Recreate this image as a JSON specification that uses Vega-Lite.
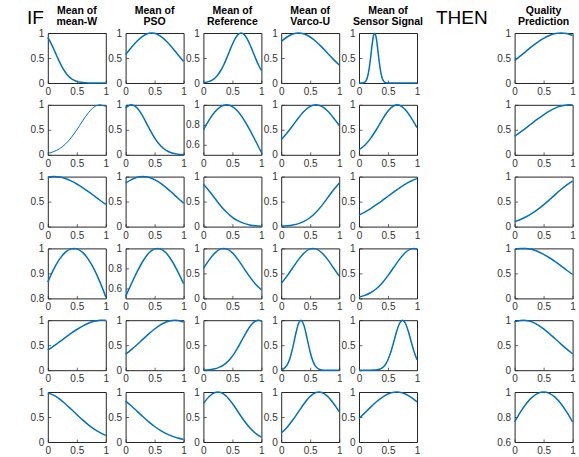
{
"$schema": "https://vega.github.io/schema/vega-lite/v6.json",
"background": "white",
"padding": {"left": 27, "top": 5, "right": 2, "bottom": 0},
"columns": 8,
"align": "each",
"bounds": "flush",
"spacing": {"row": 21.8, "column": 19.8},
"datasets": {
"1a": [{"x":0,"y":0.91},{"x":0.05,"y":0.808},{"x":0.1,"y":0.685},{"x":0.15,"y":0.554},{"x":0.2,"y":0.427},{"x":0.25,"y":0.314},{"x":0.3,"y":0.22},{"x":0.35,"y":0.147},{"x":0.4,"y":0.094},{"x":0.45,"y":0.057},{"x":0.5,"y":0.033},{"x":0.55,"y":0.018},{"x":0.6,"y":0.0097},{"x":0.7,"y":0.0024},{"x":0.8,"y":0.0005},{"x":0.9,"y":0.0001},{"x":1,"y":0}],
"1b": [{"x":0,"y":0.57},{"x":0.1,"y":0.712},{"x":0.2,"y":0.841},{"x":0.3,"y":0.939},{"x":0.4,"y":0.993},{"x":0.45,"y":1},{"x":0.5,"y":0.993},{"x":0.6,"y":0.939},{"x":0.7,"y":0.841},{"x":0.8,"y":0.712},{"x":0.9,"y":0.57},{"x":1,"y":0.432}],
"1c": [{"x":0,"y":0.0084},{"x":0.05,"y":0.017},{"x":0.1,"y":0.033},{"x":0.15,"y":0.059},{"x":0.2,"y":0.101},{"x":0.25,"y":0.164},{"x":0.3,"y":0.25},{"x":0.35,"y":0.361},{"x":0.4,"y":0.493},{"x":0.45,"y":0.636},{"x":0.5,"y":0.775},{"x":0.55,"y":0.893},{"x":0.6,"y":0.972},{"x":0.65,"y":1},{"x":0.7,"y":0.972},{"x":0.75,"y":0.893},{"x":0.8,"y":0.775},{"x":0.85,"y":0.636},{"x":0.9,"y":0.493},{"x":0.95,"y":0.361},{"x":1,"y":0.25}],
"1d": [{"x":0,"y":0.829},{"x":0.1,"y":0.92},{"x":0.2,"y":0.979},{"x":0.3,"y":1},{"x":0.4,"y":0.979},{"x":0.5,"y":0.92},{"x":0.6,"y":0.829},{"x":0.7,"y":0.717},{"x":0.8,"y":0.594},{"x":0.9,"y":0.472},{"x":1,"y":0.36}],
"1e": [{"x":0,"y":0},{"x":0.05,"y":0.0012},{"x":0.1,"y":0.018},{"x":0.125,"y":0.054},{"x":0.15,"y":0.135},{"x":0.175,"y":0.286},{"x":0.2,"y":0.506},{"x":0.225,"y":0.755},{"x":0.25,"y":0.946},{"x":0.275,"y":0.997},{"x":0.3,"y":0.882},{"x":0.325,"y":0.657},{"x":0.35,"y":0.411},{"x":0.375,"y":0.216},{"x":0.4,"y":0.096},{"x":0.425,"y":0.036},{"x":0.45,"y":0.011},{"x":0.5,"y":0.0006},{"x":0.6,"y":0},{"x":0.8,"y":0},{"x":1,"y":0}],
"1q": [{"x":0,"y":0.449},{"x":0.1,"y":0.542},{"x":0.2,"y":0.638},{"x":0.3,"y":0.732},{"x":0.4,"y":0.819},{"x":0.5,"y":0.894},{"x":0.6,"y":0.951},{"x":0.7,"y":0.988},{"x":0.8,"y":1},{"x":0.9,"y":0.988},{"x":1,"y":0.951}],
"2a": [{"x":0,"y":0.03},{"x":0.1,"y":0.063},{"x":0.2,"y":0.12},{"x":0.3,"y":0.21},{"x":0.4,"y":0.339},{"x":0.5,"y":0.5},{"x":0.6,"y":0.677},{"x":0.7,"y":0.841},{"x":0.8,"y":0.958},{"x":0.9,"y":1},{"x":1,"y":0.958}],
"2b": [{"x":0,"y":0.935},{"x":0.1,"y":1},{"x":0.2,"y":0.935},{"x":0.3,"y":0.763},{"x":0.4,"y":0.544},{"x":0.5,"y":0.339},{"x":0.6,"y":0.185},{"x":0.7,"y":0.088},{"x":0.8,"y":0.036},{"x":0.9,"y":0.013},{"x":1,"y":0.004}],
"2c": [{"x":0,"y":0.75},{"x":0.1,"y":0.85},{"x":0.2,"y":0.931},{"x":0.3,"y":0.982},{"x":0.4,"y":1},{"x":0.5,"y":0.982},{"x":0.6,"y":0.931},{"x":0.7,"y":0.85},{"x":0.8,"y":0.75},{"x":0.9,"y":0.638},{"x":1,"y":0.523}],
"2d": [{"x":0,"y":0.301},{"x":0.1,"y":0.435},{"x":0.2,"y":0.587},{"x":0.3,"y":0.741},{"x":0.4,"y":0.875},{"x":0.5,"y":0.967},{"x":0.6,"y":1},{"x":0.7,"y":0.967},{"x":0.8,"y":0.875},{"x":0.9,"y":0.741},{"x":1,"y":0.587}],
"2e": [{"x":0,"y":0.101},{"x":0.1,"y":0.192},{"x":0.2,"y":0.328},{"x":0.3,"y":0.506},{"x":0.4,"y":0.701},{"x":0.5,"y":0.874},{"x":0.6,"y":0.981},{"x":0.66,"y":1},{"x":0.7,"y":0.992},{"x":0.8,"y":0.902},{"x":0.9,"y":0.738},{"x":1,"y":0.544}],
"2q": [{"x":0,"y":0.371},{"x":0.1,"y":0.452},{"x":0.2,"y":0.539},{"x":0.3,"y":0.629},{"x":0.4,"y":0.717},{"x":0.5,"y":0.8},{"x":0.6,"y":0.874},{"x":0.7,"y":0.934},{"x":0.8,"y":0.976},{"x":0.9,"y":0.997},{"x":0.95,"y":1},{"x":1,"y":0.997}],
"3a": [{"x":0,"y":0.99},{"x":0.1,"y":1},{"x":0.2,"y":0.99},{"x":0.3,"y":0.961},{"x":0.4,"y":0.914},{"x":0.5,"y":0.852},{"x":0.6,"y":0.779},{"x":0.7,"y":0.698},{"x":0.8,"y":0.613},{"x":0.9,"y":0.527},{"x":1,"y":0.445}],
"3b": [{"x":0,"y":0.87},{"x":0.1,"y":0.94},{"x":0.2,"y":0.985},{"x":0.3,"y":1},{"x":0.4,"y":0.985},{"x":0.5,"y":0.94},{"x":0.6,"y":0.87},{"x":0.7,"y":0.781},{"x":0.8,"y":0.679},{"x":0.9,"y":0.573},{"x":1,"y":0.468}],
"3c": [{"x":0,"y":0.85},{"x":0.1,"y":0.713},{"x":0.2,"y":0.561},{"x":0.3,"y":0.413},{"x":0.4,"y":0.286},{"x":0.5,"y":0.185},{"x":0.6,"y":0.113},{"x":0.7,"y":0.064},{"x":0.8,"y":0.034},{"x":0.9,"y":0.017},{"x":1,"y":0.008}],
"3d": [{"x":0,"y":0.0067},{"x":0.1,"y":0.015},{"x":0.2,"y":0.031},{"x":0.3,"y":0.06},{"x":0.4,"y":0.108},{"x":0.5,"y":0.182},{"x":0.6,"y":0.287},{"x":0.7,"y":0.42},{"x":0.8,"y":0.574},{"x":0.9,"y":0.732},{"x":1,"y":0.87}],
"3e": [{"x":0,"y":0.23},{"x":0.1,"y":0.291},{"x":0.2,"y":0.36},{"x":0.3,"y":0.438},{"x":0.4,"y":0.52},{"x":0.5,"y":0.607},{"x":0.6,"y":0.693},{"x":0.7,"y":0.775},{"x":0.8,"y":0.849},{"x":0.9,"y":0.912},{"x":1,"y":0.96}],
"3q": [{"x":0,"y":0.1},{"x":0.1,"y":0.142},{"x":0.2,"y":0.197},{"x":0.3,"y":0.264},{"x":0.4,"y":0.345},{"x":0.5,"y":0.436},{"x":0.6,"y":0.536},{"x":0.7,"y":0.64},{"x":0.8,"y":0.742},{"x":0.9,"y":0.835},{"x":1,"y":0.912}],
"4a": [{"x":0,"y":0.865},{"x":0.1,"y":0.916},{"x":0.2,"y":0.956},{"x":0.3,"y":0.984},{"x":0.4,"y":0.998},{"x":0.45,"y":1},{"x":0.5,"y":0.998},{"x":0.6,"y":0.984},{"x":0.7,"y":0.956},{"x":0.8,"y":0.916},{"x":0.9,"y":0.865},{"x":1,"y":0.806}],
"4b": [{"x":0,"y":0.52},{"x":0.1,"y":0.646},{"x":0.2,"y":0.767},{"x":0.3,"y":0.874},{"x":0.4,"y":0.953},{"x":0.5,"y":0.995},{"x":0.55,"y":1},{"x":0.6,"y":0.995},{"x":0.7,"y":0.953},{"x":0.8,"y":0.874},{"x":0.9,"y":0.767},{"x":1,"y":0.646}],
"4c": [{"x":0,"y":0.6},{"x":0.1,"y":0.771},{"x":0.2,"y":0.911},{"x":0.3,"y":0.99},{"x":0.35,"y":1},{"x":0.4,"y":0.99},{"x":0.5,"y":0.911},{"x":0.6,"y":0.771},{"x":0.7,"y":0.6},{"x":0.8,"y":0.43},{"x":0.9,"y":0.284},{"x":1,"y":0.172}],
"4d": [{"x":0,"y":0.3},{"x":0.1,"y":0.446},{"x":0.2,"y":0.614},{"x":0.3,"y":0.78},{"x":0.4,"y":0.914},{"x":0.5,"y":0.99},{"x":0.55,"y":1},{"x":0.6,"y":0.99},{"x":0.7,"y":0.914},{"x":0.8,"y":0.78},{"x":0.9,"y":0.614},{"x":1,"y":0.446}],
"4e": [{"x":0,"y":0.03},{"x":0.1,"y":0.061},{"x":0.2,"y":0.113},{"x":0.3,"y":0.194},{"x":0.4,"y":0.31},{"x":0.5,"y":0.456},{"x":0.6,"y":0.622},{"x":0.7,"y":0.785},{"x":0.8,"y":0.917},{"x":0.9,"y":0.99},{"x":0.95,"y":1},{"x":1,"y":0.99}],
"4q": [{"x":0,"y":0.977},{"x":0.1,"y":0.997},{"x":0.15,"y":1},{"x":0.2,"y":0.997},{"x":0.3,"y":0.977},{"x":0.4,"y":0.938},{"x":0.5,"y":0.882},{"x":0.6,"y":0.813},{"x":0.7,"y":0.734},{"x":0.8,"y":0.65},{"x":0.9,"y":0.563},{"x":1,"y":0.478}],
"5a": [{"x":0,"y":0.4},{"x":0.1,"y":0.48},{"x":0.2,"y":0.565},{"x":0.3,"y":0.651},{"x":0.4,"y":0.736},{"x":0.5,"y":0.814},{"x":0.6,"y":0.883},{"x":0.7,"y":0.938},{"x":0.8,"y":0.977},{"x":0.9,"y":0.997},{"x":0.95,"y":1},{"x":1,"y":0.997}],
"5b": [{"x":0,"y":0.32},{"x":0.1,"y":0.412},{"x":0.2,"y":0.514},{"x":0.3,"y":0.621},{"x":0.4,"y":0.727},{"x":0.5,"y":0.824},{"x":0.6,"y":0.906},{"x":0.7,"y":0.965},{"x":0.8,"y":0.996},{"x":0.85,"y":1},{"x":0.9,"y":0.996},{"x":1,"y":0.965}],
"5c": [{"x":0,"y":0.0036},{"x":0.1,"y":0.011},{"x":0.2,"y":0.03},{"x":0.25,"y":0.047},{"x":0.3,"y":0.071},{"x":0.35,"y":0.105},{"x":0.4,"y":0.151},{"x":0.45,"y":0.21},{"x":0.5,"y":0.282},{"x":0.55,"y":0.368},{"x":0.6,"y":0.465},{"x":0.65,"y":0.57},{"x":0.7,"y":0.677},{"x":0.75,"y":0.779},{"x":0.8,"y":0.869},{"x":0.85,"y":0.939},{"x":0.9,"y":0.984},{"x":0.95,"y":1},{"x":1,"y":0.984}],
"5d": [{"x":0,"y":0.0098},{"x":0.05,"y":0.035},{"x":0.1,"y":0.1},{"x":0.15,"y":0.236},{"x":0.2,"y":0.457},{"x":0.25,"y":0.723},{"x":0.3,"y":0.938},{"x":0.34,"y":1},{"x":0.4,"y":0.866},{"x":0.45,"y":0.616},{"x":0.5,"y":0.359},{"x":0.55,"y":0.171},{"x":0.6,"y":0.067},{"x":0.65,"y":0.021},{"x":0.7,"y":0.0056},{"x":0.75,"y":0.0012},{"x":0.8,"y":0.0002},{"x":0.9,"y":0},{"x":1,"y":0}],
"5e": [{"x":0,"y":0},{"x":0.1,"y":0},{"x":0.2,"y":0.0005},{"x":0.25,"y":0.0019},{"x":0.3,"y":0.0063},{"x":0.35,"y":0.018},{"x":0.4,"y":0.047},{"x":0.45,"y":0.105},{"x":0.5,"y":0.21},{"x":0.55,"y":0.368},{"x":0.6,"y":0.57},{"x":0.65,"y":0.779},{"x":0.7,"y":0.939},{"x":0.75,"y":1},{"x":0.8,"y":0.939},{"x":0.85,"y":0.779},{"x":0.9,"y":0.57},{"x":0.95,"y":0.368},{"x":1,"y":0.21}],
"5q": [{"x":0,"y":0.966},{"x":0.1,"y":0.996},{"x":0.15,"y":1},{"x":0.2,"y":0.996},{"x":0.3,"y":0.966},{"x":0.4,"y":0.908},{"x":0.5,"y":0.828},{"x":0.6,"y":0.732},{"x":0.7,"y":0.628},{"x":0.8,"y":0.522},{"x":0.9,"y":0.421},{"x":1,"y":0.329}],
"6a": [{"x":0,"y":0.983},{"x":0.1,"y":0.936},{"x":0.2,"y":0.861},{"x":0.3,"y":0.766},{"x":0.4,"y":0.659},{"x":0.5,"y":0.549},{"x":0.6,"y":0.442},{"x":0.7,"y":0.344},{"x":0.8,"y":0.259},{"x":0.9,"y":0.189},{"x":1,"y":0.133}],
"6b": [{"x":0,"y":0.82},{"x":0.1,"y":0.721},{"x":0.2,"y":0.613},{"x":0.3,"y":0.505},{"x":0.4,"y":0.402},{"x":0.5,"y":0.31},{"x":0.6,"y":0.232},{"x":0.7,"y":0.168},{"x":0.8,"y":0.118},{"x":0.9,"y":0.08},{"x":1,"y":0.052}],
"6c": [{"x":0,"y":0.771},{"x":0.1,"y":0.911},{"x":0.2,"y":0.99},{"x":0.25,"y":1},{"x":0.3,"y":0.99},{"x":0.4,"y":0.911},{"x":0.5,"y":0.771},{"x":0.6,"y":0.6},{"x":0.7,"y":0.43},{"x":0.8,"y":0.284},{"x":0.9,"y":0.172},{"x":1,"y":0.096}],
"6d": [{"x":0,"y":0.18},{"x":0.1,"y":0.292},{"x":0.2,"y":0.439},{"x":0.3,"y":0.608},{"x":0.4,"y":0.776},{"x":0.5,"y":0.913},{"x":0.6,"y":0.99},{"x":0.65,"y":1},{"x":0.7,"y":0.99},{"x":0.8,"y":0.913},{"x":0.9,"y":0.776},{"x":1,"y":0.608}],
"6e": [{"x":0,"y":0.47},{"x":0.1,"y":0.583},{"x":0.2,"y":0.697},{"x":0.3,"y":0.804},{"x":0.4,"y":0.894},{"x":0.5,"y":0.961},{"x":0.6,"y":0.996},{"x":0.65,"y":1},{"x":0.7,"y":0.996},{"x":0.8,"y":0.961},{"x":0.9,"y":0.894},{"x":1,"y":0.804}],
"6q": [{"x":0,"y":0.76},{"x":0.1,"y":0.839},{"x":0.2,"y":0.906},{"x":0.3,"y":0.957},{"x":0.4,"y":0.989},{"x":0.5,"y":1},{"x":0.6,"y":0.989},{"x":0.7,"y":0.957},{"x":0.8,"y":0.906},{"x":0.9,"y":0.839},{"x":1,"y":0.76}],
"none": []
},
"concat": [
{"title": {"text": "IF", "fontSize": 19, "fontWeight": "normal", "anchor": "start", "offset": 5}, "width": 1, "height": 50, "view": {"stroke": null}, "data": {"name": "none"}, "mark": "point"},
{"title": {"text": ["Mean of", "mean-W"]}, "data": {"name": "1a"}, "mark": {"type": "line", "interpolate": "monotone"},
 "encoding": {"x": {"field": "x", "type": "quantitative", "title": null, "scale": {"domain": [0, 1]}, "axis": {"values": [0, 0.5, 1], "format": "~g"}},
  "y": {"field": "y", "type": "quantitative", "title": null, "scale": {"domain": [0, 1]}, "axis": {"values": [0, 0.5, 1], "format": "~g"}}}},
{"title": {"text": ["Mean of", "PSO"]}, "data": {"name": "1b"}, "mark": {"type": "line", "interpolate": "monotone"},
 "encoding": {"x": {"field": "x", "type": "quantitative", "title": null, "scale": {"domain": [0, 1]}, "axis": {"values": [0, 0.5, 1], "format": "~g"}},
  "y": {"field": "y", "type": "quantitative", "title": null, "scale": {"domain": [0, 1]}, "axis": {"values": [0, 0.5, 1], "format": "~g"}}}},
{"title": {"text": ["Mean of", "Reference"]}, "data": {"name": "1c"}, "mark": {"type": "line", "interpolate": "monotone"},
 "encoding": {"x": {"field": "x", "type": "quantitative", "title": null, "scale": {"domain": [0, 1]}, "axis": {"values": [0, 0.5, 1], "format": "~g"}},
  "y": {"field": "y", "type": "quantitative", "title": null, "scale": {"domain": [0, 1]}, "axis": {"values": [0, 0.5, 1], "format": "~g"}}}},
{"title": {"text": ["Mean of", "Varco-U"]}, "data": {"name": "1d"}, "mark": {"type": "line", "interpolate": "monotone"},
 "encoding": {"x": {"field": "x", "type": "quantitative", "title": null, "scale": {"domain": [0, 1]}, "axis": {"values": [0, 0.5, 1], "format": "~g"}},
  "y": {"field": "y", "type": "quantitative", "title": null, "scale": {"domain": [0, 1]}, "axis": {"values": [0, 0.5, 1], "format": "~g"}}}},
{"title": {"text": ["Mean of", "Sensor Signal"]}, "data": {"name": "1e"}, "mark": {"type": "line", "interpolate": "monotone"},
 "encoding": {"x": {"field": "x", "type": "quantitative", "title": null, "scale": {"domain": [0, 1]}, "axis": {"values": [0, 0.5, 1], "format": "~g"}},
  "y": {"field": "y", "type": "quantitative", "title": null, "scale": {"domain": [0, 1]}, "axis": {"values": [0, 0.5, 1], "format": "~g"}}}},
{"title": {"text": "THEN", "fontSize": 19, "fontWeight": "normal", "offset": 5, "dx": -4}, "width": 58, "height": 50, "view": {"stroke": null}, "data": {"name": "none"}, "mark": "point"},
{"title": {"text": ["Quality", "Prediction"]}, "data": {"name": "1q"}, "mark": {"type": "line", "interpolate": "monotone"},
 "encoding": {"x": {"field": "x", "type": "quantitative", "title": null, "scale": {"domain": [0, 1]}, "axis": {"values": [0, 0.5, 1], "format": "~g"}},
  "y": {"field": "y", "type": "quantitative", "title": null, "scale": {"domain": [0, 1]}, "axis": {"values": [0, 0.5, 1], "format": "~g"}}}},

{"width": 1, "height": 50, "view": {"stroke": null}, "data": {"name": "none"}, "mark": "point"},
{"data": {"name": "2a"}, "mark": {"type": "line", "interpolate": "monotone", "strokeWidth": 1},
 "encoding": {"x": {"field": "x", "type": "quantitative", "title": null, "scale": {"domain": [0, 1]}, "axis": {"values": [0, 0.5, 1], "format": "~g"}},
  "y": {"field": "y", "type": "quantitative", "title": null, "scale": {"domain": [0, 1]}, "axis": {"values": [0, 0.5, 1], "format": "~g"}}}},
{"data": {"name": "2b"}, "mark": {"type": "line", "interpolate": "monotone"},
 "encoding": {"x": {"field": "x", "type": "quantitative", "title": null, "scale": {"domain": [0, 1]}, "axis": {"values": [0, 0.5, 1], "format": "~g"}},
  "y": {"field": "y", "type": "quantitative", "title": null, "scale": {"domain": [0, 1]}, "axis": {"values": [0, 0.5, 1], "format": "~g"}}}},
{"data": {"name": "2c"}, "mark": {"type": "line", "interpolate": "monotone"},
 "encoding": {"x": {"field": "x", "type": "quantitative", "title": null, "scale": {"domain": [0, 1]}, "axis": {"values": [0, 0.5, 1], "format": "~g"}},
  "y": {"field": "y", "type": "quantitative", "title": null, "scale": {"domain": [0.5, 1]}, "axis": {"values": [0.6, 0.8, 1], "format": "~g"}}}},
{"data": {"name": "2d"}, "mark": {"type": "line", "interpolate": "monotone"},
 "encoding": {"x": {"field": "x", "type": "quantitative", "title": null, "scale": {"domain": [0, 1]}, "axis": {"values": [0, 0.5, 1], "format": "~g"}},
  "y": {"field": "y", "type": "quantitative", "title": null, "scale": {"domain": [0, 1]}, "axis": {"values": [0, 0.5, 1], "format": "~g"}}}},
{"data": {"name": "2e"}, "mark": {"type": "line", "interpolate": "monotone"},
 "encoding": {"x": {"field": "x", "type": "quantitative", "title": null, "scale": {"domain": [0, 1]}, "axis": {"values": [0, 0.5, 1], "format": "~g"}},
  "y": {"field": "y", "type": "quantitative", "title": null, "scale": {"domain": [0, 1]}, "axis": {"values": [0, 0.5, 1], "format": "~g"}}}},
{"width": 58, "height": 50, "view": {"stroke": null}, "data": {"name": "none"}, "mark": "point"},
{"data": {"name": "2q"}, "mark": {"type": "line", "interpolate": "monotone"},
 "encoding": {"x": {"field": "x", "type": "quantitative", "title": null, "scale": {"domain": [0, 1]}, "axis": {"values": [0, 0.5, 1], "format": "~g"}},
  "y": {"field": "y", "type": "quantitative", "title": null, "scale": {"domain": [0, 1]}, "axis": {"values": [0, 0.5, 1], "format": "~g"}}}},

{"width": 1, "height": 50, "view": {"stroke": null}, "data": {"name": "none"}, "mark": "point"},
{"data": {"name": "3a"}, "mark": {"type": "line", "interpolate": "monotone"},
 "encoding": {"x": {"field": "x", "type": "quantitative", "title": null, "scale": {"domain": [0, 1]}, "axis": {"values": [0, 0.5, 1], "format": "~g"}},
  "y": {"field": "y", "type": "quantitative", "title": null, "scale": {"domain": [0, 1]}, "axis": {"values": [0, 0.5, 1], "format": "~g"}}}},
{"data": {"name": "3b"}, "mark": {"type": "line", "interpolate": "monotone"},
 "encoding": {"x": {"field": "x", "type": "quantitative", "title": null, "scale": {"domain": [0, 1]}, "axis": {"values": [0, 0.5, 1], "format": "~g"}},
  "y": {"field": "y", "type": "quantitative", "title": null, "scale": {"domain": [0, 1]}, "axis": {"values": [0, 0.5, 1], "format": "~g"}}}},
{"data": {"name": "3c"}, "mark": {"type": "line", "interpolate": "monotone"},
 "encoding": {"x": {"field": "x", "type": "quantitative", "title": null, "scale": {"domain": [0, 1]}, "axis": {"values": [0, 0.5, 1], "format": "~g"}},
  "y": {"field": "y", "type": "quantitative", "title": null, "scale": {"domain": [0, 1]}, "axis": {"values": [0, 0.5, 1], "format": "~g"}}}},
{"data": {"name": "3d"}, "mark": {"type": "line", "interpolate": "monotone"},
 "encoding": {"x": {"field": "x", "type": "quantitative", "title": null, "scale": {"domain": [0, 1]}, "axis": {"values": [0, 0.5, 1], "format": "~g"}},
  "y": {"field": "y", "type": "quantitative", "title": null, "scale": {"domain": [0, 1]}, "axis": {"values": [0, 0.5, 1], "format": "~g"}}}},
{"data": {"name": "3e"}, "mark": {"type": "line", "interpolate": "monotone"},
 "encoding": {"x": {"field": "x", "type": "quantitative", "title": null, "scale": {"domain": [0, 1]}, "axis": {"values": [0, 0.5, 1], "format": "~g"}},
  "y": {"field": "y", "type": "quantitative", "title": null, "scale": {"domain": [0, 1]}, "axis": {"values": [0, 0.5, 1], "format": "~g"}}}},
{"width": 58, "height": 50, "view": {"stroke": null}, "data": {"name": "none"}, "mark": "point"},
{"data": {"name": "3q"}, "mark": {"type": "line", "interpolate": "monotone"},
 "encoding": {"x": {"field": "x", "type": "quantitative", "title": null, "scale": {"domain": [0, 1]}, "axis": {"values": [0, 0.5, 1], "format": "~g"}},
  "y": {"field": "y", "type": "quantitative", "title": null, "scale": {"domain": [0, 1]}, "axis": {"values": [0, 0.5, 1], "format": "~g"}}}},

{"width": 1, "height": 50, "view": {"stroke": null}, "data": {"name": "none"}, "mark": "point"},
{"data": {"name": "4a"}, "mark": {"type": "line", "interpolate": "monotone"},
 "encoding": {"x": {"field": "x", "type": "quantitative", "title": null, "scale": {"domain": [0, 1]}, "axis": {"values": [0, 0.5, 1], "format": "~g"}},
  "y": {"field": "y", "type": "quantitative", "title": null, "scale": {"domain": [0.8, 1]}, "axis": {"values": [0.8, 0.9, 1], "format": "~g"}}}},
{"data": {"name": "4b"}, "mark": {"type": "line", "interpolate": "monotone"},
 "encoding": {"x": {"field": "x", "type": "quantitative", "title": null, "scale": {"domain": [0, 1]}, "axis": {"values": [0, 0.5, 1], "format": "~g"}},
  "y": {"field": "y", "type": "quantitative", "title": null, "scale": {"domain": [0.5, 1]}, "axis": {"values": [0.6, 0.8, 1], "format": "~g"}}}},
{"data": {"name": "4c"}, "mark": {"type": "line", "interpolate": "monotone"},
 "encoding": {"x": {"field": "x", "type": "quantitative", "title": null, "scale": {"domain": [0, 1]}, "axis": {"values": [0, 0.5, 1], "format": "~g"}},
  "y": {"field": "y", "type": "quantitative", "title": null, "scale": {"domain": [0, 1]}, "axis": {"values": [0, 0.5, 1], "format": "~g"}}}},
{"data": {"name": "4d"}, "mark": {"type": "line", "interpolate": "monotone"},
 "encoding": {"x": {"field": "x", "type": "quantitative", "title": null, "scale": {"domain": [0, 1]}, "axis": {"values": [0, 0.5, 1], "format": "~g"}},
  "y": {"field": "y", "type": "quantitative", "title": null, "scale": {"domain": [0, 1]}, "axis": {"values": [0, 0.5, 1], "format": "~g"}}}},
{"data": {"name": "4e"}, "mark": {"type": "line", "interpolate": "monotone"},
 "encoding": {"x": {"field": "x", "type": "quantitative", "title": null, "scale": {"domain": [0, 1]}, "axis": {"values": [0, 0.5, 1], "format": "~g"}},
  "y": {"field": "y", "type": "quantitative", "title": null, "scale": {"domain": [0, 1]}, "axis": {"values": [0, 0.5, 1], "format": "~g"}}}},
{"width": 58, "height": 50, "view": {"stroke": null}, "data": {"name": "none"}, "mark": "point"},
{"data": {"name": "4q"}, "mark": {"type": "line", "interpolate": "monotone"},
 "encoding": {"x": {"field": "x", "type": "quantitative", "title": null, "scale": {"domain": [0, 1]}, "axis": {"values": [0, 0.5, 1], "format": "~g"}},
  "y": {"field": "y", "type": "quantitative", "title": null, "scale": {"domain": [0, 1]}, "axis": {"values": [0, 0.5, 1], "format": "~g"}}}},

{"width": 1, "height": 50, "view": {"stroke": null}, "data": {"name": "none"}, "mark": "point"},
{"data": {"name": "5a"}, "mark": {"type": "line", "interpolate": "monotone"},
 "encoding": {"x": {"field": "x", "type": "quantitative", "title": null, "scale": {"domain": [0, 1]}, "axis": {"values": [0, 0.5, 1], "format": "~g"}},
  "y": {"field": "y", "type": "quantitative", "title": null, "scale": {"domain": [0, 1]}, "axis": {"values": [0, 0.5, 1], "format": "~g"}}}},
{"data": {"name": "5b"}, "mark": {"type": "line", "interpolate": "monotone"},
 "encoding": {"x": {"field": "x", "type": "quantitative", "title": null, "scale": {"domain": [0, 1]}, "axis": {"values": [0, 0.5, 1], "format": "~g"}},
  "y": {"field": "y", "type": "quantitative", "title": null, "scale": {"domain": [0, 1]}, "axis": {"values": [0, 0.5, 1], "format": "~g"}}}},
{"data": {"name": "5c"}, "mark": {"type": "line", "interpolate": "monotone"},
 "encoding": {"x": {"field": "x", "type": "quantitative", "title": null, "scale": {"domain": [0, 1]}, "axis": {"values": [0, 0.5, 1], "format": "~g"}},
  "y": {"field": "y", "type": "quantitative", "title": null, "scale": {"domain": [0, 1]}, "axis": {"values": [0, 0.5, 1], "format": "~g"}}}},
{"data": {"name": "5d"}, "mark": {"type": "line", "interpolate": "monotone"},
 "encoding": {"x": {"field": "x", "type": "quantitative", "title": null, "scale": {"domain": [0, 1]}, "axis": {"values": [0, 0.5, 1], "format": "~g"}},
  "y": {"field": "y", "type": "quantitative", "title": null, "scale": {"domain": [0, 1]}, "axis": {"values": [0, 0.5, 1], "format": "~g"}}}},
{"data": {"name": "5e"}, "mark": {"type": "line", "interpolate": "monotone"},
 "encoding": {"x": {"field": "x", "type": "quantitative", "title": null, "scale": {"domain": [0, 1]}, "axis": {"values": [0, 0.5, 1], "format": "~g"}},
  "y": {"field": "y", "type": "quantitative", "title": null, "scale": {"domain": [0, 1]}, "axis": {"values": [0, 0.5, 1], "format": "~g"}}}},
{"width": 58, "height": 50, "view": {"stroke": null}, "data": {"name": "none"}, "mark": "point"},
{"data": {"name": "5q"}, "mark": {"type": "line", "interpolate": "monotone"},
 "encoding": {"x": {"field": "x", "type": "quantitative", "title": null, "scale": {"domain": [0, 1]}, "axis": {"values": [0, 0.5, 1], "format": "~g"}},
  "y": {"field": "y", "type": "quantitative", "title": null, "scale": {"domain": [0, 1]}, "axis": {"values": [0, 0.5, 1], "format": "~g"}}}},

{"width": 1, "height": 50, "view": {"stroke": null}, "data": {"name": "none"}, "mark": "point"},
{"data": {"name": "6a"}, "mark": {"type": "line", "interpolate": "monotone"},
 "encoding": {"x": {"field": "x", "type": "quantitative", "title": null, "scale": {"domain": [0, 1]}, "axis": {"values": [0, 0.5, 1], "format": "~g"}},
  "y": {"field": "y", "type": "quantitative", "title": null, "scale": {"domain": [0, 1]}, "axis": {"values": [0, 0.5, 1], "format": "~g"}}}},
{"data": {"name": "6b"}, "mark": {"type": "line", "interpolate": "monotone"},
 "encoding": {"x": {"field": "x", "type": "quantitative", "title": null, "scale": {"domain": [0, 1]}, "axis": {"values": [0, 0.5, 1], "format": "~g"}},
  "y": {"field": "y", "type": "quantitative", "title": null, "scale": {"domain": [0, 1]}, "axis": {"values": [0, 0.5, 1], "format": "~g"}}}},
{"data": {"name": "6c"}, "mark": {"type": "line", "interpolate": "monotone"},
 "encoding": {"x": {"field": "x", "type": "quantitative", "title": null, "scale": {"domain": [0, 1]}, "axis": {"values": [0, 0.5, 1], "format": "~g"}},
  "y": {"field": "y", "type": "quantitative", "title": null, "scale": {"domain": [0, 1]}, "axis": {"values": [0, 0.5, 1], "format": "~g"}}}},
{"data": {"name": "6d"}, "mark": {"type": "line", "interpolate": "monotone"},
 "encoding": {"x": {"field": "x", "type": "quantitative", "title": null, "scale": {"domain": [0, 1]}, "axis": {"values": [0, 0.5, 1], "format": "~g"}},
  "y": {"field": "y", "type": "quantitative", "title": null, "scale": {"domain": [0, 1]}, "axis": {"values": [0, 0.5, 1], "format": "~g"}}}},
{"data": {"name": "6e"}, "mark": {"type": "line", "interpolate": "monotone"},
 "encoding": {"x": {"field": "x", "type": "quantitative", "title": null, "scale": {"domain": [0, 1]}, "axis": {"values": [0, 0.5, 1], "format": "~g"}},
  "y": {"field": "y", "type": "quantitative", "title": null, "scale": {"domain": [0, 1]}, "axis": {"values": [0, 0.5, 1], "format": "~g"}}}},
{"width": 58, "height": 50, "view": {"stroke": null}, "data": {"name": "none"}, "mark": "point"},
{"data": {"name": "6q"}, "mark": {"type": "line", "interpolate": "monotone"},
 "encoding": {"x": {"field": "x", "type": "quantitative", "title": null, "scale": {"domain": [0, 1]}, "axis": {"values": [0, 0.5, 1], "format": "~g"}},
  "y": {"field": "y", "type": "quantitative", "title": null, "scale": {"domain": [0.6, 1]}, "axis": {"values": [0.6, 0.8, 1], "format": "~g"}}}}
],
"config": {
 "font": "Liberation Sans",
 "view": {"continuousWidth": 58, "continuousHeight": 50, "stroke": "#262626", "strokeWidth": 1},
 "axis": {"grid": false, "domain": false, "ticks": true, "tickSize": -3, "tickColor": "#262626", "tickWidth": 0.7,
  "labelFont": "Liberation Sans", "labelFontSize": 10, "labelColor": "#333333", "labelFlush": false, "labelOverlap": false, "labelBound": false},
 "axisX": {"labelPadding": 6.5},
 "axisY": {"labelPadding": 7, "minExtent": 18},
 "title": {"font": "Liberation Sans", "fontSize": 10.5, "fontWeight": "bold", "color": "#000000", "offset": 1, "lineHeight": 11, "anchor": "middle", "frame": "group"},
 "line": {"color": "#0072BD", "strokeWidth": 1.5}
}
}
